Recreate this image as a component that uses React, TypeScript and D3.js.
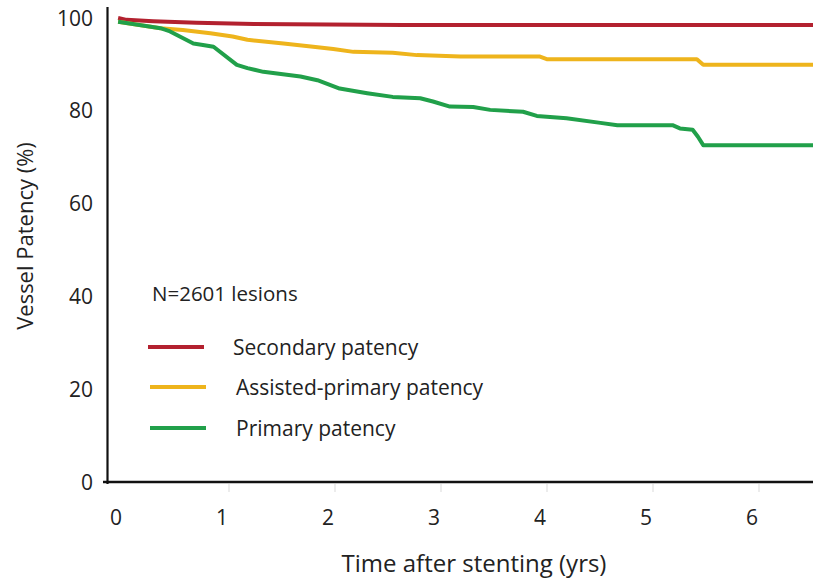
import React from "react";
import * as d3 from "d3";

const yTicks = [0, 20, 40, 60, 80, 100];
const xTicks = [0, 1, 2, 3, 4, 5, 6];

const secondaryT = [0.02, 0.1, 0.35, 0.76, 1.3, 2.7, 6.58];
const secondaryV = [100, 99.6, 99.3, 99.0, 98.7, 98.5, 98.5];

const assistedT = [0.02, 0.42, 0.63, 0.89, 1.1, 1.24, 1.58, 1.86, 2.05, 2.24, 2.61, 2.84, 3.25, 4.0, 4.07, 5.48, 5.54, 6.58];
const assistedV = [99.2, 97.8, 97.4, 96.7, 96.0, 95.3, 94.5, 93.8, 93.3, 92.7, 92.5, 92.0, 91.7, 91.7, 91.1, 91.1, 89.9, 89.9];

const primaryT = [0.02, 0.42, 0.51, 0.73, 0.82, 0.92, 1.14, 1.24, 1.39, 1.74, 1.9, 2.11, 2.37, 2.61, 2.87, 2.99, 3.15, 3.37, 3.53, 3.84, 3.97, 4.25, 4.57, 4.73, 5.25, 5.32, 5.44, 5.49, 5.54, 6.58];
const primaryV = [99.2, 97.8, 97.1, 94.5, 94.2, 93.8, 89.9, 89.2, 88.4, 87.4, 86.6, 84.8, 83.8, 83.0, 82.7, 82.0, 80.9, 80.8, 80.2, 79.8, 78.9, 78.4, 77.4, 76.9, 76.9, 76.2, 75.9, 74.4, 72.6, 72.6];

const seriesNames = ["Secondary patency", "Assisted-primary patency", "Primary patency"];
const seriesColors = ["#B3212F", "#EEB41C", "#21A04A"];
const noteText = "N=2601 lesions";

const W = 813;
const H = 580;
const FONT = "'Open Sans', 'Noto Sans', sans-serif";

export default function App() {
  const x = d3.scaleLinear().domain([0, 6]).range([116, 752]);
  const y = d3.scaleLinear().domain([0, 100]).range([482, 18]);
  const line = d3
    .line<[number, number]>()
    .x((d) => x(d[0]))
    .y((d) => y(d[1]))
    .curve(d3.curveLinear);

  const series = [
    secondaryT.map((t, i) => [t, secondaryV[i]] as [number, number]),
    assistedT.map((t, i) => [t, assistedV[i]] as [number, number]),
    primaryT.map((t, i) => [t, primaryV[i]] as [number, number]),
  ];

  const legendY = [347, 387, 428];
  const legendLineX = [148, 150, 150];
  const legendTextX = [233, 236, 236];

  return (
    <svg
      width={W}
      height={H}
      style={{ position: "absolute", left: 0, top: 0, background: "#fff" }}
      fontFamily={FONT}
    >
      <rect width={W} height={H} fill="#fff" />
      {xTicks.slice(1).map((t) => (
        <line key={"xt" + t} x1={x(t) + 7} x2={x(t) + 7} y1={484} y2={492} stroke="#e6e6e6" strokeWidth={1.5} />
      ))}
      {series.map((s, i) => (
        <path key={i} d={line(s) || ""} fill="none" stroke={seriesColors[i]} strokeWidth={4} strokeLinejoin="round" />
      ))}
      <line x1={107.5} x2={107.5} y1={7} y2={484} stroke="#111" strokeWidth={2.2} />
      <line x1={103} x2={W} y1={482} y2={482} stroke="#111" strokeWidth={2.6} />
      {yTicks.map((v) => (
        <text key={"yl" + v} x={93} y={y(v)} dy="0.36em" textAnchor="end" fontSize={21} fill="#222">
          {v}
        </text>
      ))}
      {xTicks.map((t) => (
        <text key={"xl" + t} x={x(t)} y={517} dy="0.36em" textAnchor="middle" fontSize={21} fill="#222">
          {t}
        </text>
      ))}
      <text x={474} y={564} dy="0.35em" textAnchor="middle" fontSize={24} fill="#222">
        Time after stenting (yrs)
      </text>
      <text
        transform={`translate(25.5,236) rotate(-90)`}
        dy="0.35em"
        textAnchor="middle"
        fontSize={22}
        fill="#222"
      >
        Vessel Patency (%)
      </text>
      <text x={152} y={294} dy="0.36em" fontSize={20.5} fill="#222">
        {noteText}
      </text>
      {seriesNames.map((n, i) => (
        <g key={n}>
          <line x1={legendLineX[i]} x2={legendLineX[i] + 56} y1={legendY[i]} y2={legendY[i]} stroke={seriesColors[i]} strokeWidth={4} />
          <text x={legendTextX[i]} y={legendY[i]} dy="0.36em" fontSize={21} fill="#222">
            {n}
          </text>
        </g>
      ))}
    </svg>
  );
}
